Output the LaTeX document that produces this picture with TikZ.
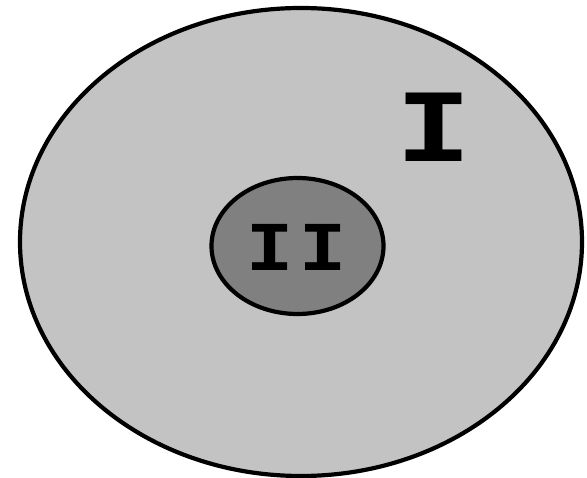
\documentclass[tikz,border=0pt]{standalone}
\usepackage{fontspec}
\setmonofont{Liberation Mono}
\definecolor{outerfill}{RGB}{195,195,195}
\definecolor{innerfill}{RGB}{128,128,128}
\begin{document}
\begin{tikzpicture}[x=1pt,y=-1pt,
  region/.style={draw=black,line width=4.2pt},
  lbl/.style={inner sep=0pt,text=black,transform shape}]
\useasboundingbox[fill=white] (0,0) rectangle (587,478);
\draw[region,fill=outerfill] (301,242) ellipse [x radius=281, y radius=234];
\draw[region,fill=innerfill] (297.5,246) ellipse [x radius=86, y radius=68];
\node[lbl,xscale=1.2,font=\ttfamily\bfseries\fontsize{104}{104}\selectfont] (one) at (434,127) {I};
\node[lbl,xscale=1.12,font=\ttfamily\bfseries\fontsize{70}{70}\selectfont] (twoa) at (270,247) {I};
\node[lbl,xscale=1.12,font=\ttfamily\bfseries\fontsize{70}{70}\selectfont] (twob) at (323,247) {I};
\end{tikzpicture}
\end{document}
